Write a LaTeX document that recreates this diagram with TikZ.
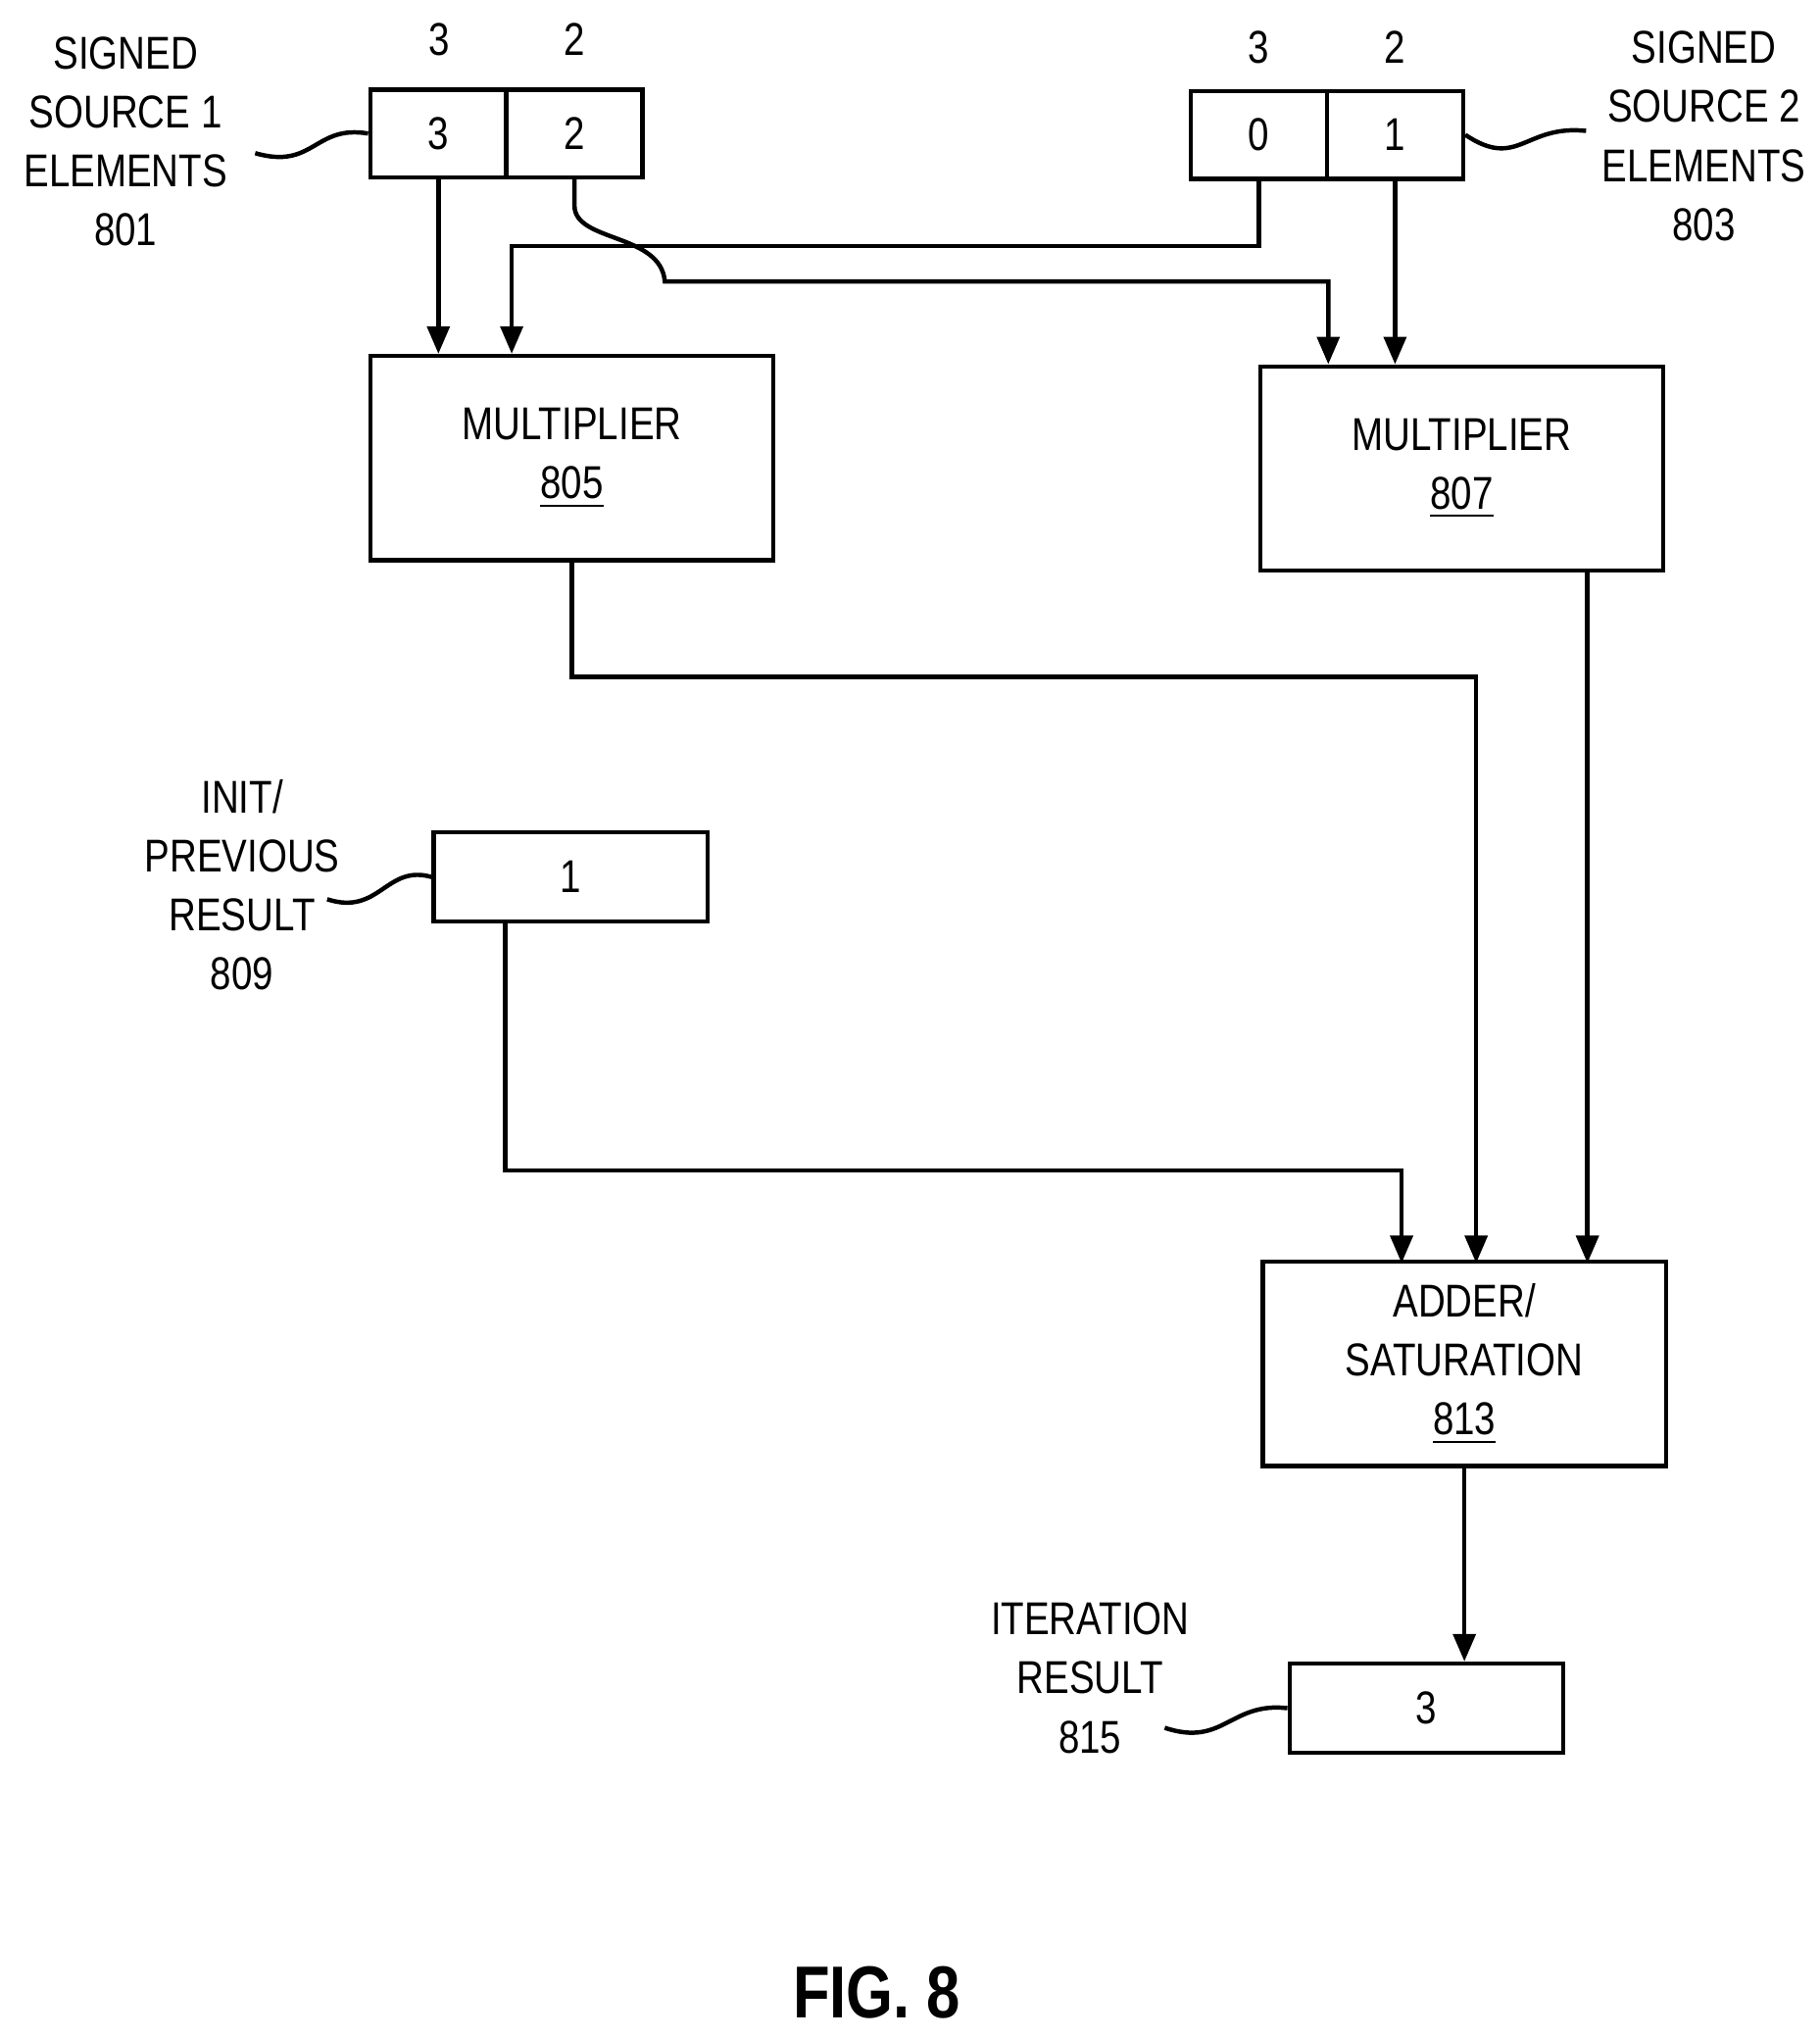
\documentclass[tikz,border=0pt]{standalone}
\usepackage{fontspec}
\setmainfont{Liberation Sans}[FakeStretch=0.82]
\usetikzlibrary{arrows.meta,positioning}
\begin{document}
\begin{tikzpicture}[x=0.01cm, y=-0.01cm,
  every node/.style={font=\fontsize{10}{12.8}\selectfont, align=center},
  cell/.style={draw, line width=0.95pt, minimum width=1.04cm, minimum height=0.67cm, inner sep=0pt},
  reg/.style={draw, line width=0.95pt, minimum width=2.09cm, minimum height=0.68cm, inner sep=0pt},
  unit/.style={draw, line width=0.95pt, minimum width=3.08cm, minimum height=1.56cm, inner sep=0pt},
  arr/.style={-{Triangle[length=0.21cm,width=0.17cm]}, line width=0.95pt},
  lead/.style={line width=0.95pt}
]
  \useasboundingbox (0,0) rectangle (1390,1557);
  % source 1 elements
  \node[cell] (s1a) at (335,102) {3};
  \node[cell] (s1b) at (439,102) {2};
  \node at (336,30) {3};
  \node at (439,30) {2};
  \node (l801) at (96,108) {SIGNED\\SOURCE 1\\ELEMENTS\\801};
  \draw[lead] (195,117) .. controls (240,130) and (240,95) .. (s1a.west);
  % source 2 elements
  \node[cell] (s2a) at (962,103) {0};
  \node[cell] (s2b) at (1066,103) {1};
  \node at (962,36) {3};
  \node at (1066,36) {2};
  \node (l803) at (1302,104) {SIGNED\\SOURCE 2\\ELEMENTS\\803};
  \draw[lead] (s2b.east) .. controls (1160,130) and (1165,95) .. (1212,100);
  % multipliers
  \node[unit] (m805) at (437,350) {MULTIPLIER\\\underline{805}};
  \node[unit] (m807) at (1117,358) {MULTIPLIER\\\underline{807}};
  % init / previous result
  \node[reg] (r809) at (436,670) {1};
  \node (l809) at (185,676) {INIT/\\PREVIOUS\\RESULT\\809};
  \draw[lead] (250,687) .. controls (290,700) and (295,660) .. (r809.west);
  % adder
  \node[unit] (a813) at (1119,1042) {ADDER/\\SATURATION\\\underline{813}};
  % iteration result
  \node[reg] (r815) at (1090,1305) {3};
  \node (l815) at (833,1282) {ITERATION\\RESULT\\815};
  \draw[lead] (890,1320) .. controls (935,1335) and (940,1300) .. (r815.west);
  \node[font=\fontsize{16}{19}\selectfont\bfseries] (fig) at (670,1522) {FIG. 8};
  % connections
  \coordinate (c1) at (391,188);
  \coordinate (c2) at (1015,215);
  \draw[arr] (s1a.south) -- (s1a.south |- m805.north);
  \draw[arr] (s2a.south) |- (c1) -- (c1 |- m805.north);
  \draw[arr] (s1b.south) -- ++(0,20) .. controls (439,185) and (505,178) .. (508,215) -- (c2) -- (c2 |- m807.north);
  \draw[arr] (s2b.south) -- (s2b.south |- m807.north);
  \draw[arr] (m805.south) |- (1128,517) -- (1128,965);
  \draw[arr] (1213,436) -- (1213,965);
  \draw[arr] (386,704) |- (1071,894) -- (1071,965);
  \draw[arr] (a813.south) -- (a813.south |- r815.north);
\end{tikzpicture}
\end{document}
